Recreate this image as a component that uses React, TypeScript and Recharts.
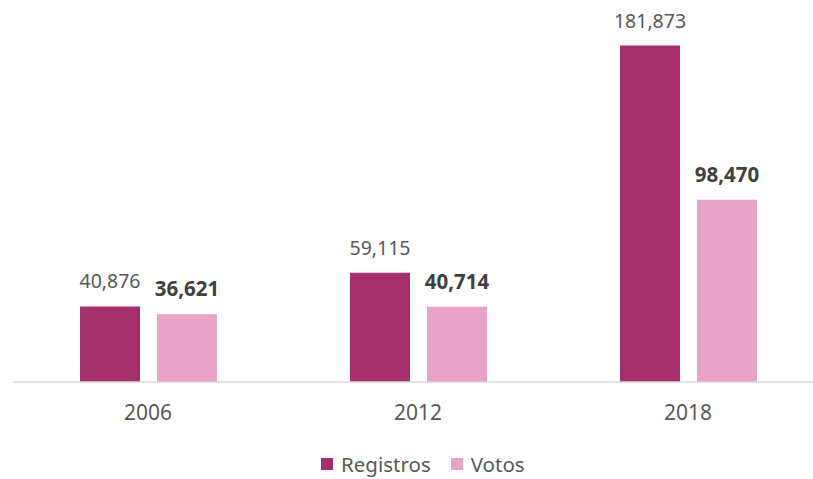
import React from "react";
import { BarChart, Bar, XAxis, YAxis, LabelList } from "recharts";

const years = ["2006", "2012", "2018"];
const registros = [40876, 59115, 181873];
const votos = [36621, 40714, 98470];

const data = years.map((year, i) => ({ year, registros: registros[i], votos: votos[i] }));

const FONT = "'Noto Sans', 'Open Sans', sans-serif";
const REG_COLOR = "#A52F6B";
const VOT_COLOR = "#E8A3C6";

const fmt = (v: number) => v.toLocaleString("en-US");

export default function App() {
  return (
    <div style={{ position: "absolute", left: 0, top: 0, width: 813, height: 479, overflow: "hidden", background: "#fff", fontFamily: FONT }}>
      <BarChart
        width={830}
        height={479}
        data={data}
        margin={{ top: 12, right: 7, left: 13, bottom: 0 }}
        barSize={60}
        barGap={17}
      >
        <XAxis
          dataKey="year"
          height={97}
          tickLine={false}
          tickSize={0}
          tickMargin={23}
          axisLine={{ stroke: "#D9D9D9", strokeWidth: 1.5 }}
          tick={{ fontSize: 21, fill: "#595959", fontFamily: FONT }}
        />
        <YAxis hide domain={[0, 200000]} />
        <Bar dataKey="registros" fill={REG_COLOR} isAnimationActive={false}>
          <LabelList
            dataKey="registros"
            position="top"
            offset={18}
            formatter={(v: number) => fmt(v)}
            style={{ fontSize: 19.5, fill: "#595959", fontFamily: FONT }}
          />
        </Bar>
        <Bar dataKey="votos" fill={VOT_COLOR} isAnimationActive={false}>
          <LabelList
            dataKey="votos"
            position="top"
            offset={18}
            formatter={(v: number) => fmt(v)}
            style={{ fontSize: 20.5, fill: "#404040", fontWeight: 700, fontFamily: FONT }}
          />
        </Bar>
      </BarChart>
      <div style={{ position: "absolute", left: 321, top: 452, display: "flex", alignItems: "center", fontSize: 20.5, color: "#595959", lineHeight: "24px" }}>
        <span style={{ width: 12, height: 12, background: REG_COLOR, display: "inline-block", marginRight: 8 }} />
        <span style={{ marginRight: 20 }}>Registros</span>
        <span style={{ width: 12, height: 12, background: VOT_COLOR, display: "inline-block", marginRight: 8 }} />
        <span>Votos</span>
      </div>
    </div>
  );
}
